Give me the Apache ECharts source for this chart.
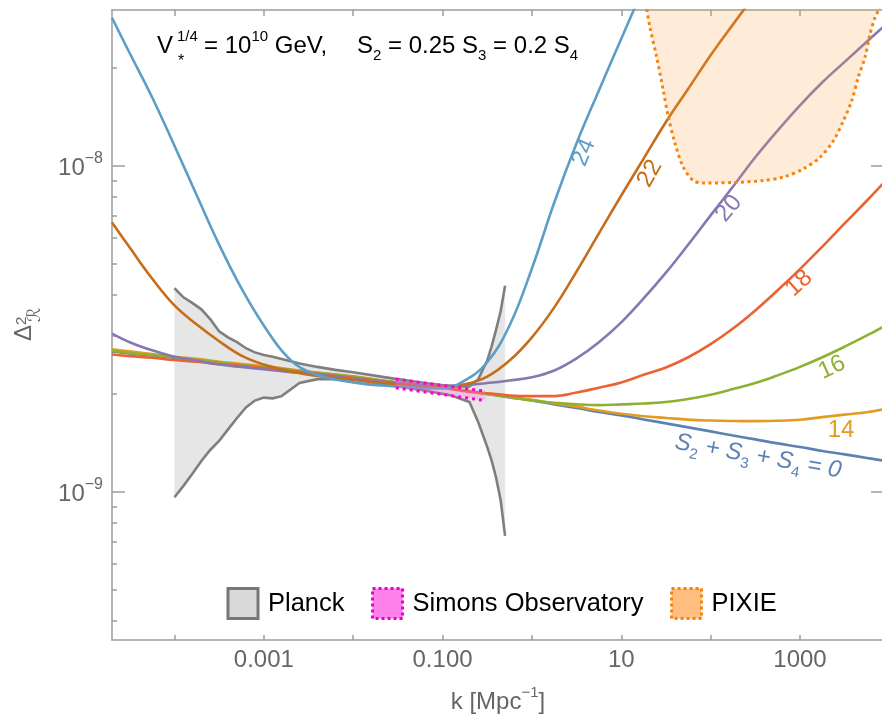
<!DOCTYPE html>
<html>
<head>
<meta charset="utf-8">
<script src="https://cdn.jsdelivr.net/npm/echarts@6/dist/echarts.min.js"></script>
<style>
  html, body { margin: 0; padding: 0; background: #fff; }
  #spectrum { width: 882px; height: 717px; }
</style>
</head>
<body>
<div id="spectrum"></div>
<script>
// k in Mpc^-1, spectrum values in units of 1e-9
const kGrid = [2.0e-5, 3.16e-5, 5.62e-5, 1.0e-4, 1.78e-4, 3.16e-4, 5.62e-4, 1.0e-3, 1.78e-3, 3.16e-3,
  0.01, 0.0316, 0.1, 0.178, 0.316, 0.562, 1, 1.78, 3.16, 5.62,
  10, 17.8, 31.6, 56.2, 100, 178, 316, 562, 1000, 1780, 3160, 5620, 8910];

const flatCurve = [2.688, 2.650, 2.613, 2.567, 2.522, 2.478, 2.435, 2.400, 2.358, 2.317, 2.237, 2.159, 2.084,
  2.041, 1.991, 1.942, 1.902, 1.849, 1.804, 1.753, 1.711, 1.663, 1.617, 1.572, 1.528, 1.485, 1.444, 1.404,
  1.369, 1.331, 1.299, 1.267, 1.241];
const curve14 = [2.73, 2.69, 2.64, 2.59, 2.55, 2.50, 2.46, 2.42, 2.38, 2.33, 2.25, 2.16, 2.09, 2.04, 1.99, 1.95,
  1.91, 1.86, 1.82, 1.77, 1.73, 1.70, 1.68, 1.66, 1.65, 1.645, 1.643, 1.647, 1.66, 1.69, 1.72, 1.75, 1.79];
const curve16 = [2.70, 2.66, 2.62, 2.58, 2.53, 2.49, 2.44, 2.41, 2.37, 2.33, 2.25, 2.16, 2.09, 2.04, 1.99, 1.95,
  1.90, 1.87, 1.85, 1.84, 1.85, 1.86, 1.88, 1.92, 1.98, 2.06, 2.15, 2.27, 2.41, 2.58, 2.78, 3.01, 3.22];
const curve18 = [2.63, 2.60, 2.57, 2.53, 2.50, 2.46, 2.43, 2.39, 2.35, 2.31, 2.23, 2.15, 2.08, 2.03, 2.00, 1.97,
  1.96, 1.96, 2.01, 2.08, 2.16, 2.28, 2.40, 2.58, 2.83, 3.16, 3.59, 4.14, 4.81, 5.64, 6.64, 7.81, 8.93];
const curve20 = [3.05, 2.87, 2.71, 2.59, 2.52, 2.45, 2.41, 2.37, 2.33, 2.30, 2.22, 2.15, 2.11, 2.12, 2.15, 2.19,
  2.24, 2.35, 2.56, 2.87, 3.30, 3.91, 4.69, 5.72, 7.03, 8.62, 10.6, 12.8, 15.3, 18.0, 20.8, 24.0, 26.9];
const curve22 = [6.69, 5.60, 4.50, 3.72, 3.25, 2.89, 2.61, 2.45, 2.35, 2.28, 2.20, 2.13, 2.09, 2.13, 2.25, 2.52,
  2.97, 3.67, 4.73, 6.19, 8.09, 10.5, 13.6, 17.2, 21.8, 27.1, 33.5, null, null, null, null, null, null];
const curve24 = [28.4, 22.1, 16.2, 11.5, 8.09, 5.72, 4.20, 3.23, 2.61, 2.33, 2.16, 2.10, 2.07, 2.19, 2.49, 3.23,
  4.83, 7.70, 11.7, 17.0, 24.5, 35.2, null, null, null, null, null, null, null, null, null, null, null];

const planckK = [1.0e-4, 1.26e-4, 1.58e-4, 2.0e-4, 2.51e-4, 3.16e-4, 3.98e-4, 5.01e-4, 6.31e-4, 7.94e-4,
  1.0e-3, 1.26e-3, 1.58e-3, 2.51e-3, 3.98e-3, 6.31e-3, 0.01, 0.0251, 0.0631, 0.126,
  0.2, 0.251, 0.316, 0.355, 0.398, 0.447, 0.501];
const planckHigh = [4.20, 3.94, 3.79, 3.62, 3.38, 3.10, 2.97, 2.87, 2.75, 2.67, 2.62, 2.59, 2.55, 2.47, 2.41,
  2.36, 2.32, 2.23, 2.15, 2.10, 2.10, 2.21, 2.52, 2.79, 3.14, 3.57, 4.28];
const planckLow = [0.96, 1.04, 1.13, 1.24, 1.34, 1.43, 1.55, 1.68, 1.81, 1.90, 1.94, 1.93, 1.96, 2.15, 2.21,
  2.21, 2.20, 2.12, 2.04, 1.97, 1.88, 1.63, 1.37, 1.24, 1.10, 0.94, 0.73];

const simonsK = [0.03, 0.3];
const simonsHigh = [2.21, 2.03];
const simonsLow = [2.08, 1.90];

const pixieK = [18.7, 20.9, 24.9, 29.5, 33.6, 39.9, 49.4, 64.0, 82.8, 180, 389, 650, 1090, 1675, 2360,
  3055, 3795, 4500, 5345, 6080, 6920, 7530, 7870];
const pixieLow = [31.6, 26.6, 21.5, 17.0, 14.1, 11.7, 9.88, 8.99, 8.83, 8.87, 8.99, 9.21, 9.77, 10.6, 11.9,
  13.7, 15.8, 18.7, 21.5, 25.3, 28.5, 29.9, 31.6];

// axis ranges and ticks
const kMin = 2e-5, kMax = 8710;
const dMin = 3.5e-10, dMax = 3e-8;
const xTickK = [1e-4, 1e-3, 1e-2, 0.1, 1, 10, 100, 1000];
const xLabelK = [1e-3, 0.1, 10, 1000];
const xLabelText = ['0.001', '0.100', '10', '1000'];
const yMajor = [1e-9, 1e-8];
const yMajorExp = ['\u22129', '\u22128'];
const yMinor = [4e-10, 5e-10, 6e-10, 7e-10, 8e-10, 9e-10, 2e-9, 3e-9, 4e-9, 5e-9, 6e-9, 7e-9, 8e-9, 9e-9, 2e-8];

// curve labels: text, k, value (1e-9), angle
const curveLabels = {
  c24: ['24', 3.82, 10.96, 67],
  c22: ['22', 20.9, 9.45, 60],
  c20: ['20', 160, 7.38, 50],
  c18: ['18', 975, 4.35, 42],
  c16: ['16', 2280, 2.40, 25],
  c14: ['14', 2877, 1.54, 0],
  c0: ['{i|S}{s|2}{i| + S}{s|3}{i| + S}{s|4}{i| = 0}', 339, 1.28, -10]
};

const FONT = '"Liberation Sans", Arial, "DejaVu Sans", sans-serif';
const frame = '#9d9d9d';
const lg = Math.log10;
const pt = (k, d) => [lg(k), lg(d * 1e-9)];

function curve(name, values, color, lab) {
  const data = [];
  kGrid.forEach(function (k, i) {
    if (values[i] != null) data.push(pt(k, values[i]));
  });
  return {
    name: name,
    type: 'line',
    data: data,
    smooth: 0.4,
    showSymbol: false,
    symbol: 'none',
    clip: true,
    z: 3,
    silent: true,
    lineStyle: { color: color, width: 2.6 },
    markPoint: {
      symbol: 'circle',
      symbolSize: 1,
      silent: true,
      itemStyle: { color: 'rgba(0,0,0,0)' },
      data: [{
        coord: pt(lab[1], lab[2]),
        label: {
          show: true,
          position: 'inside',
          formatter: lab[0],
          rotate: lab[3],
          color: color,
          fontSize: 24,
          fontFamily: FONT,
          rich: {
            i: { fontStyle: 'italic', fontSize: 24, color: color, fontFamily: FONT, lineHeight: 34 },
            s: { fontSize: 15, color: color, fontFamily: FONT, lineHeight: 16, verticalAlign: 'bottom' }
          }
        }
      }]
    }
  };
}

function bandSeries(name, ks, low, high, fill, stroke, dash, z) {
  return {
    name: name,
    type: 'custom',
    z: z,
    silent: true,
    data: [pt(ks[0], low[0])],
    renderItem: function (params, api) {
      const top = ks.map(function (k, i) { return api.coord(pt(k, high[i])); });
      const bot = ks.map(function (k, i) { return api.coord(pt(k, low[i])); });
      const edge = { fill: 'none', stroke: stroke, lineWidth: dash ? 3 : 2.6, lineDash: dash || null };
      return {
        type: 'group',
        children: [
          { type: 'polygon', shape: { points: top.concat(bot.slice().reverse()) }, style: { fill: fill } },
          { type: 'polyline', shape: { points: top }, style: edge },
          { type: 'polyline', shape: { points: bot }, style: edge }
        ]
      };
    }
  };
}

const chart = echarts.init(document.getElementById('spectrum'));

const xCommon = {
  type: 'value',
  min: lg(kMin),
  max: lg(kMax),
  splitLine: { show: false },
  axisLine: { show: true, onZero: false, lineStyle: { color: frame, width: 1.5 } }
};
const yCommon = {
  type: 'value',
  min: lg(dMin),
  max: lg(dMax),
  splitLine: { show: false },
  axisLine: { show: true, onZero: false, lineStyle: { color: frame, width: 1.5 } }
};

const option = {
  animation: false,
  backgroundColor: '#fff',
  grid: { left: 112, right: -2, top: 10, bottom: 77, containLabel: false, outerBoundsMode: 'none' },
  xAxis: [
    Object.assign({}, xCommon, {
      position: 'bottom',
      axisTick: { inside: true, length: 5, customValues: xTickK.map(lg), lineStyle: { color: frame, width: 1.5 } },
      axisLabel: {
        customValues: xLabelK.map(lg),
        formatter: function (v) {
          const i = xLabelK.findIndex(function (k) { return Math.abs(lg(k) - v) < 1e-6; });
          return i >= 0 ? xLabelText[i] : '';
        },
        margin: 8,
        fontSize: 24,
        color: '#666',
        fontFamily: FONT
      },
      name: 'k [Mpc{sup|\u22121}]',
      nameLocation: 'middle',
      nameGap: 45,
      nameTextStyle: {
        fontSize: 24, color: '#666', fontFamily: FONT, lineHeight: 34,
        rich: { sup: { fontSize: 15, color: '#666', fontFamily: FONT, lineHeight: 14, verticalAlign: 'top' } }
      }
    }),
    Object.assign({}, xCommon, {
      position: 'top',
      axisTick: { inside: true, length: 6, customValues: xTickK.map(lg), lineStyle: { color: frame, width: 1.5 } },
      axisLabel: { show: false }
    })
  ],
  yAxis: [
    Object.assign({}, yCommon, {
      position: 'left',
      axisTick: { inside: true, length: 13, customValues: yMajor.map(lg), lineStyle: { color: frame, width: 1.5 } },
      axisLabel: {
        customValues: yMajor.map(lg),
        formatter: function (v) {
          const i = yMajor.findIndex(function (d) { return Math.abs(lg(d) - v) < 1e-6; });
          return i >= 0 ? '{b|10}{sup|' + yMajorExp[i] + '}' : '';
        },
        margin: 9,
        padding: [5, 0, 0, 0],
        rich: {
          b: { fontSize: 24, color: '#666', fontFamily: FONT, lineHeight: 34 },
          sup: { fontSize: 16, color: '#666', fontFamily: FONT, lineHeight: 14, verticalAlign: 'top' }
        }
      }
    }),
    Object.assign({}, yCommon, {
      position: 'left',
      axisLine: { show: false, onZero: false },
      axisTick: { inside: true, length: 5, customValues: yMinor.map(lg), lineStyle: { color: frame, width: 1.5 } },
      axisLabel: { show: false }
    }),
    Object.assign({}, yCommon, {
      position: 'right',
      axisTick: { inside: true, length: 13, customValues: yMajor.map(lg), lineStyle: { color: frame, width: 1.5 } },
      axisLabel: { show: false }
    })
  ],
  legend: {
    left: 226.5,
    top: 587,
    padding: 0,
    itemWidth: 30,
    itemHeight: 30,
    itemGap: 26.5,
    selectedMode: false,
    textStyle: { fontSize: 25.5, color: '#000', fontFamily: FONT, padding: [0, 0, 0, 5] },
    data: [
      { name: 'Planck', icon: 'rect', itemStyle: { color: '#d9d9d9', borderColor: '#777', borderWidth: 3 } },
      { name: 'Simons Observatory', icon: 'rect',
        itemStyle: { color: '#ff80ea', borderColor: '#e600c8', borderWidth: 3, borderType: [3, 3] } },
      { name: 'PIXIE', icon: 'rect',
        itemStyle: { color: '#ffbe80', borderColor: '#f7820c', borderWidth: 3, borderType: [3, 3] } }
    ]
  },
  graphic: [
    // title
    { type: 'text', x: 157, y: 46, silent: true,
      style: { text: 'V', font: '24px ' + FONT, fill: '#000', align: 'left', verticalAlign: 'middle' } },
    { type: 'text', x: 177, y: 37, silent: true,
      style: { text: '1/4', font: '15px ' + FONT, fill: '#000', align: 'left', verticalAlign: 'middle' } },
    { type: 'text', x: 178, y: 62, silent: true,
      style: { text: '*', font: '16px ' + FONT, fill: '#000', align: 'left', verticalAlign: 'middle' } },
    { type: 'text', x: 204, y: 46, silent: true,
      style: {
        text: '{t|= 10}{sup|10}{t| GeV,}', align: 'left', verticalAlign: 'middle',
        rich: {
          t: { fontSize: 24, fontFamily: FONT, fill: '#000', lineHeight: 34 },
          sup: { fontSize: 15, fontFamily: FONT, fill: '#000', lineHeight: 14, verticalAlign: 'top' }
        }
      } },
    { type: 'text', x: 357, y: 46, silent: true,
      style: {
        text: '{t|S}{sub|2}{t| = 0.25 S}{sub|3}{t| = 0.2 S}{sub|4}', align: 'left', verticalAlign: 'middle',
        rich: {
          t: { fontSize: 24, fontFamily: FONT, fill: '#000', lineHeight: 34 },
          sub: { fontSize: 15, fontFamily: FONT, fill: '#000', lineHeight: 16, verticalAlign: 'bottom' }
        }
      } },
    // y axis name
    { type: 'group', x: 33, y: 341, rotation: Math.PI / 2, silent: true,
      children: [
        { type: 'text', x: 0, y: -8.5,
          style: { text: '\u0394', font: '24px ' + FONT, fill: '#666', align: 'left', verticalAlign: 'middle' } },
        { type: 'text', x: 16, y: -11,
          style: { text: '2', font: '15px ' + FONT, fill: '#666', align: 'left', verticalAlign: 'middle' } },
        { type: 'text', x: 19, y: 2,
          style: { text: '\u211B', font: '18px ' + FONT, fill: '#666', align: 'left', verticalAlign: 'middle' } }
      ] }
  ],
  series: [
    bandSeries('Planck', planckK, planckLow, planckHigh, '#e6e6e6', '#7f7f7f', null, 1),
    curve('S2+S3+S4=0', flatCurve, '#5e81b5', curveLabels.c0),
    curve('14', curve14, '#e19c24', curveLabels.c14),
    curve('16', curve16, '#8fb032', curveLabels.c16),
    curve('18', curve18, '#eb6235', curveLabels.c18),
    curve('20', curve20, '#8778b3', curveLabels.c20),
    curve('22', curve22, '#c56e1a', curveLabels.c22),
    curve('24', curve24, '#5d9ec7', curveLabels.c24),
    bandSeries('Simons Observatory', simonsK, simonsLow, simonsHigh, 'rgba(255,110,230,0.3)', '#f0c', [3, 4], 4),
    {
      name: 'PIXIE',
      type: 'line',
      data: pixieK.map(function (k, i) { return pt(k, pixieLow[i]); }),
      smooth: 0.3,
      showSymbol: false,
      symbol: 'none',
      clip: true,
      z: 5,
      silent: true,
      lineStyle: { color: '#f7820c', width: 3, type: [3, 3.5], cap: 'butt' },
      areaStyle: { color: 'rgba(248,162,72,0.3)', origin: 'end' }
    }
  ]
};

option && chart.setOption(option, true);
</script>
</body>
</html>
